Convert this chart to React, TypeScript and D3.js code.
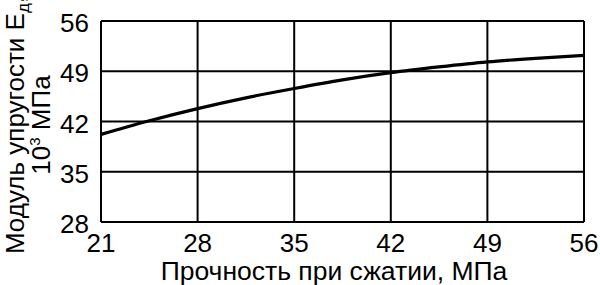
import React from "react";
import * as d3 from "d3";

const xTicks = [21, 28, 35, 42, 49, 56];
const yTicks = [28, 35, 42, 49, 56];
const strength = [21, 24.3, 28, 31.5, 35, 38.5, 42, 45.5, 49, 52.5, 56];
const modulus = [40.2, 42.0, 43.8, 45.3, 46.6, 47.8, 48.8, 49.6, 50.3, 50.8, 51.2];

export default function App() {
  const W = 600, H = 285;
  const m = { left: 101, right: 16, top: 21, bottom: 63 };
  const x = d3.scaleLinear().domain([21, 56]).range([m.left, W - m.right]);
  const y = d3.scaleLinear().domain([28, 56]).range([H - m.bottom, m.top]);
  const pts = strength.map((s, i) => [s, modulus[i]] as [number, number]);
  const line = d3.line<[number, number]>().x(d => x(d[0])).y(d => y(d[1])).curve(d3.curveMonotoneX);
  const font = "Liberation Sans, Arial, sans-serif";
  const fs = 26;
  return (
    <svg width={W} height={H} style={{ position: "absolute", left: 0, top: 0, background: "#fff" }}>
      <rect x={0} y={0} width={W} height={H} fill="#fff" />
      {xTicks.map(t => (
        <line key={"gx" + t} x1={x(t)} x2={x(t)} y1={y(28)} y2={y(56)} stroke="#000" strokeWidth={2} />
      ))}
      {yTicks.map(t => (
        <line key={"gy" + t} x1={x(21)} x2={x(56)} y1={y(t)} y2={y(t)} stroke="#000" strokeWidth={2} />
      ))}
      <path d={line(pts) || ""} fill="none" stroke="#000" strokeWidth={3.2} />
      {xTicks.map(t => (
        <text key={"tx" + t} x={x(t)} y={y(28) + 30} textAnchor="middle" fontFamily={font} fontSize={fs} fill="#000">{t}</text>
      ))}
      {yTicks.map(t => (
        <text key={"ty" + t} x={x(21) - 12} y={y(t) + 11} textAnchor="end" fontFamily={font} fontSize={fs} fill="#000">{t}</text>
      ))}
      <text x={334} y={280} textAnchor="middle" fontFamily={font} fontSize={26.5} fill="#000">Прочность при сжатии, МПа</text>
      <text transform={`translate(24,125) rotate(-90)`} textAnchor="middle" fontFamily={font} fontSize={fs} fill="#000">Модуль упругости E<tspan fontSize={17} dy={5}>д</tspan><tspan dy={-5}>,</tspan></text>
      <text transform={`translate(50,125) rotate(-90)`} textAnchor="middle" fontFamily={font} fontSize={fs} fill="#000">10<tspan fontSize={15} dy={-10}>3</tspan><tspan dy={10}> МПа</tspan></text>
    </svg>
  );
}
